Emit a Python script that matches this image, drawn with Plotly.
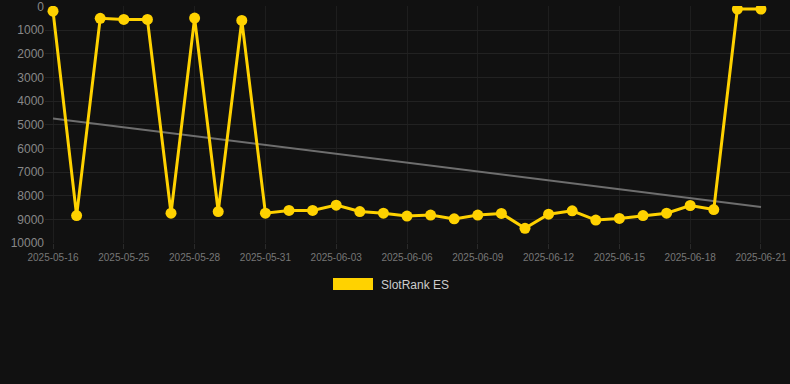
import numpy as np
import plotly.graph_objects as go

dates = ["2025-05-16", "2025-05-23", "2025-05-24", "2025-05-25", "2025-05-26", "2025-05-27",
         "2025-05-28", "2025-05-29", "2025-05-30", "2025-05-31", "2025-06-01", "2025-06-02",
         "2025-06-03", "2025-06-04", "2025-06-05", "2025-06-06", "2025-06-07", "2025-06-08",
         "2025-06-09", "2025-06-10", "2025-06-11", "2025-06-12", "2025-06-13", "2025-06-14",
         "2025-06-15", "2025-06-16", "2025-06-17", "2025-06-18", "2025-06-19", "2025-06-20",
         "2025-06-21"]
ranks = [200, 8840, 500, 550, 550, 8740, 490, 8670, 590, 8740, 8625, 8625,
         8400, 8670, 8740, 8860, 8820, 8980, 8820, 8750, 9380, 8780, 8640, 9030,
         8960, 8840, 8740, 8415, 8585, 110, 110]
series_name = "SlotRank ES"
y_ticks = [0, 1000, 2000, 3000, 4000, 5000, 6000, 7000, 8000, 9000, 10000]

idx = np.arange(len(ranks))
slope, intercept = np.polyfit(idx, ranks, 1)
trend = slope * idx + intercept
tick_idx = list(range(0, len(dates), 3))

YELLOW = "#FFD200"
BG = "#111111"

fig = go.Figure()
fig.add_trace(go.Scatter(x=idx, y=trend, mode="lines",
                         line=dict(color="#6e6e6e", width=2), hoverinfo="skip",
                         showlegend=False))
fig.add_trace(go.Scatter(x=idx, y=ranks, mode="lines+markers", name=series_name,
                         line=dict(color=YELLOW, width=3),
                         marker=dict(color=YELLOW, size=11), showlegend=False))

# legend
fig.add_shape(type="rect", xref="paper", yref="paper",
              x0=(333 - 45) / 745, x1=(373 - 45) / 745,
              y0=(243 - 290) / 237, y1=(243 - 278) / 237,
              fillcolor=YELLOW, line=dict(width=0))
fig.add_annotation(xref="paper", yref="paper", x=(379 - 45) / 745, y=(243 - 285) / 237,
                   text=series_name, showarrow=False, xanchor="left", yanchor="middle",
                   font=dict(family="Liberation Sans, Arial", size=12, color="#cccccc"))

fig.update_layout(
    width=790, height=384,
    paper_bgcolor=BG, plot_bgcolor=BG,
    margin=dict(l=45, r=0, t=6, b=141),
    font=dict(family="Liberation Sans, Arial", color="#888888"),
    xaxis=dict(range=[-0.34, 31.23], tickmode="array", tickvals=tick_idx,
               ticktext=[dates[i] for i in tick_idx], showgrid=True,
               gridcolor="#1e1e1e", gridwidth=1, zeroline=False, showline=False,
               ticks="outside", ticklen=5, tickcolor="#2a2a2a",
               ticklabeloverflow="allow",
               tickfont=dict(size=10, color="#777777")),
    yaxis=dict(range=[10000, -20], tickmode="array", tickvals=y_ticks,
               tickformat="d", ticklabeloverflow="allow",
               showgrid=True, gridcolor="#222222", gridwidth=1, zeroline=False,
               showline=False, ticks="", tickfont=dict(size=12, color="#888888")),
    showlegend=False,
)

fig.write_html("out.html", config={"displayModeBar": False},
               post_script="document.body.style.margin='0';document.body.style.background='#111111';")
